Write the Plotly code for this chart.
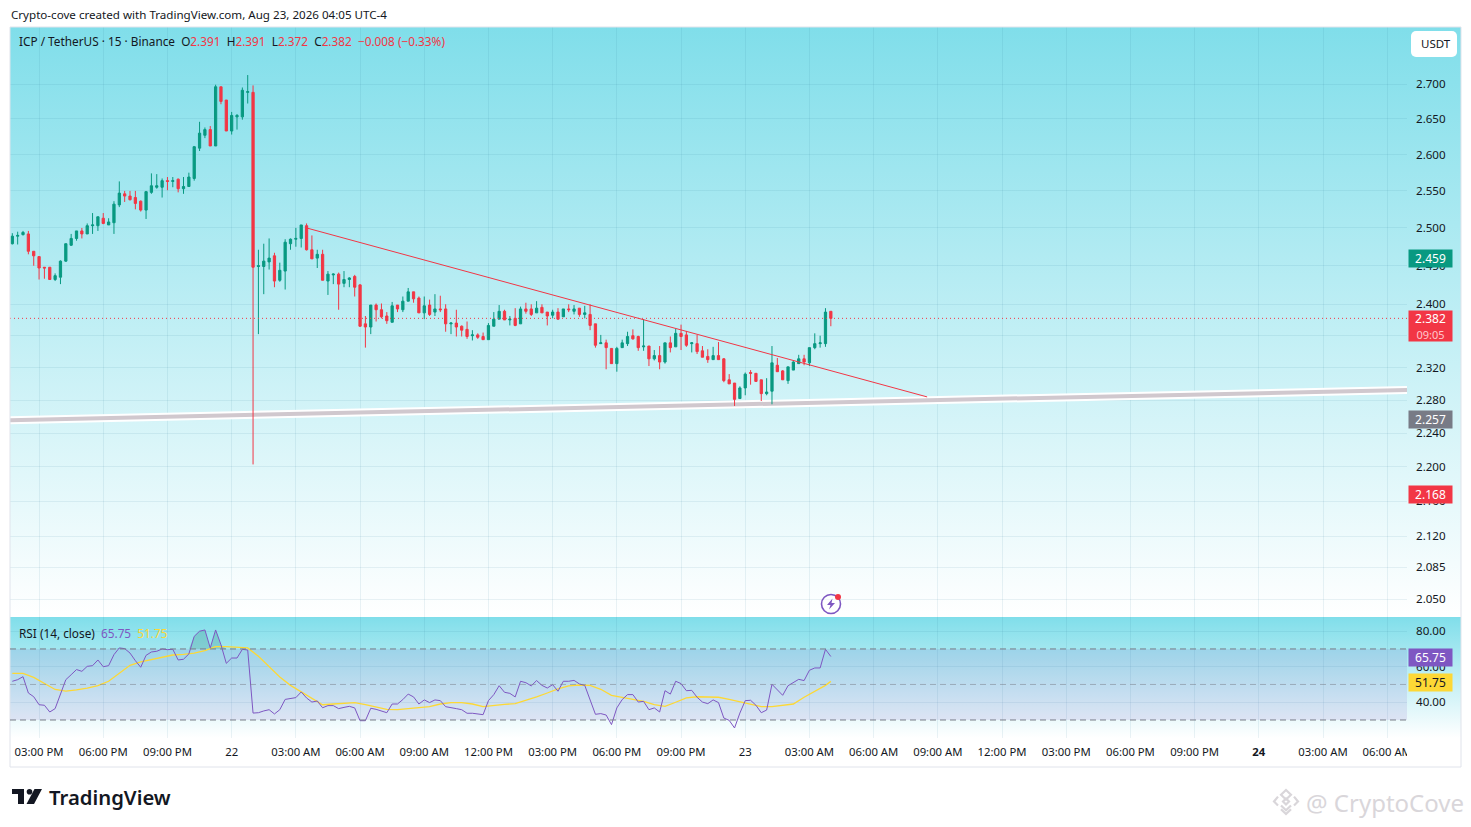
import math
from urllib.parse import quote

import numpy as np
import pandas as pd
import plotly.graph_objects as go

W, H = 1471, 827

# ---------------------------------------------------------
# Candles, 15 min bars
# ---------------------------------------------------------
opens = [
    2.479, 2.489, 2.491, 2.492, 2.469, 2.462, 2.448, 2.448, 2.432, 2.435, 2.456, 2.477, 2.486, 2.496,
    2.492, 2.503, 2.503, 2.513, 2.504, 2.507, 2.531, 2.546, 2.543, 2.541, 2.536, 2.524, 2.548, 2.555,
    2.555, 2.564, 2.563, 2.566, 2.553, 2.556, 2.567, 2.609, 2.627, 2.635, 2.612, 2.696, 2.677, 2.633,
    2.653, 2.653, 2.688, 2.688, 2.449, 2.449, 2.455, 2.463, 2.431, 2.443, 2.479, 2.485, 2.486, 2.503,
    2.471, 2.460, 2.465, 2.430, 2.438, 2.439, 2.427, 2.432, 2.436, 2.425, 2.375, 2.371, 2.399, 2.393,
    2.385, 2.377, 2.399, 2.393, 2.404, 2.416, 2.408, 2.389, 2.399, 2.390, 2.394, 2.394, 2.375, 2.376,
    2.372, 2.368, 2.360, 2.361, 2.359, 2.355, 2.372, 2.381, 2.391, 2.380, 2.382, 2.375, 2.394, 2.394,
    2.389, 2.396, 2.390, 2.386, 2.390, 2.384, 2.394, 2.391, 2.395, 2.387, 2.387, 2.375, 2.350, 2.351,
    2.344, 2.325, 2.345, 2.350, 2.360, 2.359, 2.346, 2.347, 2.331, 2.335, 2.327, 2.351, 2.346, 2.363,
    2.361, 2.350, 2.350, 2.341, 2.334, 2.330, 2.335, 2.331, 2.305, 2.301, 2.282, 2.295, 2.314, 2.313,
    2.305, 2.288, 2.291, 2.323, 2.316, 2.304, 2.317, 2.325, 2.331, 2.326, 2.345, 2.350, 2.350, 2.391,
]
highs = [
    2.493, 2.495, 2.496, 2.496, 2.469, 2.462, 2.448, 2.448, 2.440, 2.457, 2.479, 2.492, 2.496, 2.500,
    2.506, 2.520, 2.515, 2.520, 2.513, 2.536, 2.563, 2.550, 2.550, 2.550, 2.537, 2.550, 2.574, 2.573,
    2.567, 2.569, 2.569, 2.567, 2.569, 2.575, 2.612, 2.646, 2.638, 2.640, 2.699, 2.696, 2.677, 2.660,
    2.657, 2.695, 2.713, 2.698, 2.471, 2.479, 2.486, 2.467, 2.454, 2.485, 2.486, 2.500, 2.504, 2.506,
    2.490, 2.471, 2.471, 2.443, 2.440, 2.441, 2.443, 2.435, 2.438, 2.426, 2.385, 2.399, 2.401, 2.401,
    2.390, 2.403, 2.399, 2.410, 2.421, 2.416, 2.410, 2.410, 2.406, 2.413, 2.411, 2.400, 2.377, 2.393,
    2.373, 2.378, 2.367, 2.363, 2.364, 2.376, 2.390, 2.399, 2.393, 2.385, 2.395, 2.397, 2.402, 2.400,
    2.404, 2.400, 2.390, 2.393, 2.395, 2.394, 2.400, 2.399, 2.395, 2.398, 2.400, 2.375, 2.361, 2.355,
    2.344, 2.346, 2.355, 2.365, 2.368, 2.360, 2.381, 2.347, 2.342, 2.347, 2.351, 2.359, 2.369, 2.374,
    2.366, 2.352, 2.361, 2.347, 2.343, 2.346, 2.352, 2.332, 2.312, 2.301, 2.297, 2.314, 2.317, 2.313,
    2.305, 2.307, 2.347, 2.332, 2.317, 2.321, 2.328, 2.336, 2.336, 2.345, 2.363, 2.360, 2.395, 2.391,
]
lows = [
    2.478, 2.478, 2.490, 2.465, 2.450, 2.432, 2.433, 2.432, 2.430, 2.426, 2.455, 2.476, 2.483, 2.486,
    2.492, 2.492, 2.496, 2.505, 2.504, 2.492, 2.528, 2.535, 2.537, 2.525, 2.522, 2.512, 2.546, 2.553,
    2.541, 2.551, 2.555, 2.548, 2.546, 2.556, 2.564, 2.605, 2.623, 2.612, 2.612, 2.671, 2.633, 2.628,
    2.635, 2.649, 2.672, 2.203, 2.362, 2.413, 2.445, 2.422, 2.429, 2.419, 2.471, 2.475, 2.474, 2.470,
    2.459, 2.447, 2.431, 2.412, 2.426, 2.393, 2.422, 2.422, 2.410, 2.371, 2.345, 2.362, 2.378, 2.382,
    2.375, 2.377, 2.390, 2.390, 2.404, 2.402, 2.389, 2.381, 2.385, 2.385, 2.390, 2.365, 2.362, 2.359,
    2.359, 2.356, 2.354, 2.356, 2.355, 2.355, 2.372, 2.381, 2.380, 2.373, 2.372, 2.375, 2.388, 2.385,
    2.389, 2.389, 2.373, 2.382, 2.380, 2.384, 2.390, 2.387, 2.384, 2.382, 2.367, 2.345, 2.350, 2.318,
    2.325, 2.315, 2.345, 2.347, 2.355, 2.341, 2.341, 2.322, 2.329, 2.318, 2.325, 2.339, 2.346, 2.342,
    2.346, 2.339, 2.337, 2.333, 2.326, 2.330, 2.330, 2.302, 2.300, 2.273, 2.282, 2.286, 2.299, 2.303,
    2.279, 2.286, 2.275, 2.315, 2.305, 2.300, 2.317, 2.325, 2.323, 2.322, 2.343, 2.345, 2.346, 2.372,
]
closes = [
    2.489, 2.490, 2.494, 2.469, 2.463, 2.447, 2.447, 2.432, 2.437, 2.456, 2.479, 2.486, 2.496, 2.492,
    2.503, 2.504, 2.515, 2.506, 2.508, 2.532, 2.547, 2.543, 2.538, 2.533, 2.524, 2.549, 2.557, 2.557,
    2.564, 2.563, 2.564, 2.553, 2.556, 2.569, 2.611, 2.630, 2.635, 2.612, 2.696, 2.675, 2.633, 2.655,
    2.655, 2.691, 2.689, 2.448, 2.450, 2.456, 2.460, 2.430, 2.444, 2.481, 2.485, 2.486, 2.504, 2.471,
    2.459, 2.465, 2.431, 2.439, 2.439, 2.426, 2.432, 2.434, 2.422, 2.372, 2.371, 2.399, 2.393, 2.384,
    2.379, 2.398, 2.394, 2.404, 2.416, 2.407, 2.389, 2.398, 2.387, 2.394, 2.393, 2.375, 2.376, 2.371,
    2.367, 2.359, 2.361, 2.358, 2.355, 2.373, 2.381, 2.391, 2.380, 2.381, 2.373, 2.394, 2.391, 2.387,
    2.395, 2.389, 2.385, 2.390, 2.381, 2.394, 2.393, 2.394, 2.387, 2.389, 2.373, 2.348, 2.351, 2.345,
    2.325, 2.344, 2.351, 2.359, 2.356, 2.345, 2.347, 2.331, 2.335, 2.327, 2.351, 2.345, 2.363, 2.359,
    2.348, 2.351, 2.340, 2.333, 2.330, 2.335, 2.330, 2.304, 2.300, 2.281, 2.295, 2.312, 2.313, 2.303,
    2.288, 2.290, 2.326, 2.315, 2.305, 2.321, 2.327, 2.331, 2.327, 2.345, 2.350, 2.351, 2.390, 2.382,
]

# RSI line, one value per bar
rsi = [
    51.8, 52.7, 54.4, 45.2, 43.1, 38.6, 38.3, 34.5, 36.4, 45.2, 52.7, 55.5, 58.4, 57.4, 60.2, 60.6,
    63.8, 60.0, 60.6, 66.8, 70.6, 70.2, 67.7, 63.4, 59.7, 66.4, 68.3, 68.7, 70.0, 69.6, 69.8, 63.8,
    64.2, 67.2, 77.1, 80.0, 80.7, 70.6, 80.7, 72.4, 61.9, 64.9, 64.9, 69.8, 69.4, 33.9, 34.1, 35.1,
    35.8, 33.4, 35.8, 41.6, 42.2, 42.6, 45.8, 42.4, 40.1, 40.7, 36.9, 38.1, 38.1, 36.4, 37.1, 37.7,
    36.8, 29.6, 29.6, 36.6, 36.0, 35.1, 34.1, 39.0, 39.0, 41.5, 44.6, 43.0, 39.0, 41.3, 39.8, 41.3,
    40.9, 37.5, 37.1, 36.4, 35.8, 33.8, 33.8, 33.4, 33.0, 40.9, 44.3, 49.3, 45.6, 45.0, 43.0, 51.8,
    51.0, 49.2, 52.2, 49.5, 48.0, 49.9, 46.2, 51.8, 51.8, 52.3, 50.3, 49.5, 41.3, 33.2, 33.6, 32.8,
    27.4, 36.8, 41.5, 44.3, 44.3, 40.1, 40.5, 35.8, 36.8, 34.5, 46.5, 44.6, 51.8, 50.5, 46.5, 46.7,
    42.8, 40.1, 39.2, 41.3, 39.8, 31.1, 29.8, 25.5, 33.9, 40.9, 41.1, 38.3, 34.1, 35.6, 50.1, 47.1,
    43.9, 49.3, 51.0, 52.9, 52.2, 58.0, 59.3, 59.3, 69.8, 65.75,
]

# RSI moving average, read every second bar
ma_bars = [
    0, 2, 4, 6, 8, 10, 12, 14, 16, 18, 20, 22, 24, 26, 28, 30, 32, 34, 36, 38, 40, 42, 44, 46, 48, 50,
    52, 54, 56, 58, 60, 62, 64, 66, 68, 70, 72, 74, 76, 78, 80, 82, 84, 86, 88, 90, 92, 94, 96, 98, 100,
    102, 104, 106, 108, 110, 112, 114, 116, 118, 120, 122, 124, 126, 128, 130, 132, 134, 136, 138, 140,
    142, 144, 146, 148, 150, 152, 153,
]
rsi_ma = [
    56.3, 56.3, 54.0, 50.8, 47.2, 46.3, 46.9, 48.0, 49.3, 51.8, 56.5, 60.8, 62.7, 64.0, 65.5, 66.6, 67.0,
    67.6, 69.1, 71.3, 71.3, 70.8, 70.6, 65.9, 60.2, 54.2, 49.5, 45.8, 42.4, 38.6, 39.0, 39.4, 39.8, 38.6,
    37.3, 36.0, 35.8, 36.4, 37.1, 37.5, 39.0, 39.8, 39.8, 39.0, 37.5, 38.3, 38.8, 39.2, 40.9, 43.0, 45.2,
    47.5, 49.2, 49.7, 49.5, 47.3, 43.9, 42.8, 42.0, 40.5, 38.6, 37.7, 40.0, 42.4, 43.1, 42.8, 42.8, 41.6,
    40.1, 39.0, 37.5, 37.5, 38.1, 39.0, 42.8, 46.2, 49.5, 51.75,
]

# axis ticks
price_ticks = [2.7, 2.65, 2.6, 2.55, 2.5, 2.45, 2.4, 2.36, 2.32, 2.28, 2.24, 2.2, 2.16, 2.12, 2.085, 2.05]
rsi_ticks = [80, 60, 40]
rsi_levels = [70, 50, 30]
time_labels = [
    "03:00 PM", "06:00 PM", "09:00 PM", "22", "03:00 AM", "06:00 AM", "09:00 AM", "12:00 PM",
    "03:00 PM", "06:00 PM", "09:00 PM", "23", "03:00 AM", "06:00 AM", "09:00 AM", "12:00 PM",
    "03:00 PM", "06:00 PM", "09:00 PM", "<b>24</b>", "03:00 AM", "06:00 AM",
]

# drawn lines (time, price)
trend_x = ["2026-08-22 03:30", "2026-08-23 08:30"]
trend_y = [2.5, 2.284]
support_y = [2.2558, 2.2925]
x_range = ["2026-08-21 13:38:30", "2026-08-24 06:55:30"]
last_price = 2.382

# price scale labels on the right
price_tags = [(2.459, "#089981", "white"), (2.257, "#787b86", "white"), (2.168, "#f23645", "white")]
rsi_tags = [(65.0, "65.75", "#7e57c2", "white"), (51.0, "51.75", "#fdd835", "#131722")]

UP, DOWN = "#089981", "#f23645"
INK = "#131722"
GRID = "rgba(30,110,140,0.09)"
FONT = "Noto Sans"

times = pd.date_range("2026-08-21 13:45", periods=len(closes), freq="15min")
bar_x = list(times.strftime("%Y-%m-%d %H:%M"))
tick_x = list(pd.date_range("2026-08-21 15:00", periods=len(time_labels), freq="3h").strftime("%Y-%m-%d %H:%M"))
ma_x = [bar_x[i] for i in ma_bars]


def px(x):
    return x / W


def py(y):
    return 1 - y / H


def svg_image(body, x0, y0, x1, y1, vb=None, layer="above"):
    # small inline svg placed in page pixels
    vb = vb or f"0 0 {x1 - x0} {y1 - y0}"
    src = ("data:image/svg+xml," + quote(
        f"<svg xmlns='http://www.w3.org/2000/svg' viewBox='{vb}' preserveAspectRatio='none' "
        f"width='{x1 - x0}' height='{y1 - y0}'>{body}</svg>"))
    return dict(source=src, xref="paper", yref="paper", x=px(x0), y=py(y0), sizex=(x1 - x0) / W,
                sizey=(y1 - y0) / H, sizing="stretch", xanchor="left", yanchor="top", layer=layer)


gradient = ("<defs><linearGradient id='g' x1='0' y1='0' x2='0' y2='1'><stop offset='0' stop-color='#80deea'/>"
            "<stop offset='1' stop-color='#ffffff'/></linearGradient></defs>"
            "<rect width='100%' height='100%' fill='url(#g)'/>")
logo = ("<path d='M0 0H12V15H6V5H0Z' fill='#131722'/><circle cx='17.5' cy='2.8' r='2.8' fill='#131722'/>"
        "<path d='M22.5 0H30L22 15H14.5Z' fill='#131722'/><rect x='0' y='0' width='6' height='5' fill='#131722'/>")
diamond = ("<g fill='none' stroke='#d9d6da' stroke-width='2.2'>"
           "<path d='M14 2L19 7L14 12L9 7Z'/><path d='M6 9L2 14L6 18M22 9L26 14L22 18'/>"
           "<path d='M9 18L14 23L19 18M14 11L17 14L14 17L11 14Z'/><path d='M9 22L14 27L19 22'/></g>")
bolt = ("<circle cx='11' cy='11' r='9.5' fill='white' fill-opacity='0.5' stroke='#7e57c2' stroke-width='1.6'/>"
        "<path d='M12.5 5.5L7 12H10.5L9 16.5L15 10H11.5Z' fill='#7e57c2'/>"
        "<circle cx='18' cy='4' r='3' fill='#f23645'/>")
usdt_box = "<rect x='0' y='0' width='46' height='26' rx='5' fill='white'/>"

# ---------------------------------------------------------
# Traces
# ---------------------------------------------------------
fig = go.Figure()
fig.add_trace(go.Candlestick(
    x=bar_x, open=opens, high=highs, low=lows, close=closes,
    increasing=dict(line=dict(color=UP, width=1), fillcolor=UP),
    decreasing=dict(line=dict(color=DOWN, width=1), fillcolor=DOWN),
    whiskerwidth=0, hoverinfo="skip",
))
fig.add_trace(go.Scatter(x=trend_x, y=trend_y, mode="lines", line=dict(color=DOWN, width=1), hoverinfo="skip"))

# overbought shading, then RSI and its average
fig.add_trace(go.Scatter(x=bar_x, y=[70] * len(bar_x), xaxis="x2", yaxis="y2", mode="lines",
                         line=dict(width=0), hoverinfo="skip"))
fig.add_trace(go.Scatter(x=bar_x, y=np.maximum(rsi, 70).tolist(), xaxis="x2", yaxis="y2", mode="lines",
                         line=dict(width=0), fill="tonexty", fillcolor="rgba(40,130,120,0.25)", hoverinfo="skip"))
fig.add_trace(go.Scatter(x=ma_x, y=rsi_ma, xaxis="x2", yaxis="y2", mode="lines",
                         line=dict(color="#fdd835", width=1.3), hoverinfo="skip"))
fig.add_trace(go.Scatter(x=bar_x, y=rsi, xaxis="x2", yaxis="y2", mode="lines",
                         line=dict(color="#7e57c2", width=1), hoverinfo="skip"))

# ---------------------------------------------------------
# Shapes
# ---------------------------------------------------------
shapes = [
    dict(type="line", xref="x", yref="y", x0=x_range[0], x1=x_range[1], y0=support_y[0], y1=support_y[1],
         line=dict(color="white", width=8), layer="between"),
    dict(type="line", xref="x", yref="y", x0=x_range[0], x1=x_range[1], y0=support_y[0], y1=support_y[1],
         line=dict(color="#d0c8ce", width=4), layer="between"),
    dict(type="line", xref="x", yref="y", x0=x_range[0], x1=x_range[1], y0=last_price, y1=last_price,
         line=dict(color=DOWN, width=1, dash="1px,3px"), layer="above"),
    dict(type="rect", xref="x2", yref="y2", x0=x_range[0], x1=x_range[1], y0=rsi_levels[2], y1=rsi_levels[0],
         fillcolor="rgba(126,87,194,0.13)", line=dict(width=0), layer="between"),
    # clips the last time label at the edge of the pane
    dict(type="rect", xref="paper", yref="paper", x0=px(1407), x1=px(1460), y0=py(766), y1=py(739),
         fillcolor="white", line=dict(width=0), layer="above"),
    # frame around the chart
    dict(type="rect", xref="paper", yref="paper", x0=px(10), x1=px(1461), y0=py(767), y1=py(27),
         line=dict(color="#e0e3eb", width=1), layer="above"),
]
for level in rsi_levels:
    shapes.append(dict(type="line", xref="x2", yref="y2", x0=x_range[0], x1=x_range[1], y0=level, y1=level,
                       line=dict(color="#787b86" if level != 50 else "rgba(120,123,134,0.5)", width=1,
                                 dash="6px,4px"), layer="above"))

# ---------------------------------------------------------
# Text
# ---------------------------------------------------------
def note(text, x, y, size=11, color=INK, **kw):
    return dict(text=text, xref="paper", yref="paper", x=px(x), y=py(y), xanchor="left", yanchor="middle",
                showarrow=False, font=dict(family=FONT, size=size, color=color), borderpad=0, **kw)


def red(v):
    return f"<span style='color:{DOWN}'>{v}</span>"


annotations = [
    note("Crypto-cove created with TradingView.com, Aug 23, 2026 04:05 UTC-4", 10, 14.5, size=11.6),
    note(f"ICP / TetherUS · 15 · Binance\u00a0\u00a0O{red('2.391')}\u00a0\u00a0H{red('2.391')}\u00a0\u00a0"
         f"L{red('2.372')}\u00a0\u00a0C{red('2.382')}\u00a0\u00a0{red('−0.008 (−0.33%)')}", 18, 41.5, size=11.8),
    note("RSI (14, close)\u00a0\u00a0<span style='color:#7e57c2'>65.75</span>\u00a0\u00a0"
         "<span style='color:#fdd835'>51.75</span>", 18, 632.5, size=11.8),
    note("USDT", 1420, 44, size=11.5),
    note("TradingView", 48, 796.5, size=20.3),
    note("@ CryptoCove", 1305, 802, size=24, color="#d9d6da"),
]
annotations[4]["font"]["weight"] = 600

for value, bg, fg in price_tags:
    annotations.append(dict(text=f"{value:.3f}", xref="paper", yref="y", x=px(1407.5), y=math.log10(value),
                            xanchor="left", yanchor="middle", showarrow=False, width=41, height=15, bgcolor=bg,
                            font=dict(family=FONT, size=12, color=fg)))
annotations.append(dict(text="2.382<br><span style='font-size:11px;color:#ffc7cc'>09:05</span>", xref="paper", yref="y",
                        x=px(1407.5), y=math.log10(last_price), yshift=8, xanchor="left", yanchor="top",
                        showarrow=False, width=41, height=28, bgcolor=DOWN,
                        font=dict(family=FONT, size=12, color="white")))
for value, text, bg, fg in rsi_tags:
    annotations.append(dict(text=text, xref="paper", yref="y2", x=px(1407.5), y=value, xanchor="left",
                            yanchor="middle", showarrow=False, width=41, height=15, bgcolor=bg,
                            font=dict(family=FONT, size=12, color=fg)))

# ---------------------------------------------------------
# Layout
# ---------------------------------------------------------
fig.update_layout(
    width=W, height=H, autosize=False, margin=dict(l=0, r=0, t=0, b=0, autoexpand=False),
    paper_bgcolor="white", plot_bgcolor="rgba(0,0,0,0)", showlegend=False, hovermode=False,
    font=dict(family=FONT, size=12, color=INK), boxgap=0.4,
    xaxis=dict(domain=[px(10), px(1407)], range=x_range, type="date", anchor="y", showticklabels=False,
               tickmode="array", tickvals=tick_x, ticks="", showgrid=True, gridcolor=GRID, gridwidth=1,
               rangeslider=dict(visible=False), zeroline=False, showline=False),
    yaxis=dict(domain=[py(617), py(27)], type="log", side="right", anchor="x",
               range=[math.log10(2.0304), math.log10(2.7836)],
               tickmode="array", tickvals=price_ticks, ticktext=[f"{v:.3f}" for v in price_ticks],
               ticks="", ticklabelstandoff=8, showgrid=True, gridcolor=GRID, gridwidth=1,
               zeroline=False, showline=False, tickfont=dict(size=11.6, color=INK)),
    xaxis2=dict(domain=[px(10), px(1407)], range=x_range, type="date", anchor="y2", matches="x",
                tickmode="array", tickvals=tick_x, ticktext=time_labels, ticks="", ticklabelstandoff=6,
                showgrid=True, gridcolor=GRID, gridwidth=1, zeroline=False, showline=False,
                rangeslider=dict(visible=False), tickangle=0, tickfont=dict(size=11.3, color=INK)),
    yaxis2=dict(domain=[py(738), py(617)], side="right", anchor="x2", range=[19.86, 88.0],
                tickmode="array", tickvals=rsi_ticks, ticktext=[f"{v:.2f}" for v in rsi_ticks],
                ticks="", ticklabelstandoff=8, showgrid=True, gridcolor=GRID, gridwidth=1,
                zeroline=False, showline=False, tickfont=dict(size=11.6, color=INK)),
    shapes=shapes,
    annotations=annotations,
    images=[
        svg_image(gradient, 10, 27, 1461, 617, layer="below"),
        svg_image(gradient, 10, 617, 1461, 738, layer="below"),
        svg_image(usdt_box, 1411, 31, 1457, 57),
        svg_image(logo, 12, 789, 42, 804),
        svg_image(diamond, 1272, 788, 1300, 816, vb="0 0 28 29"),
        svg_image(bolt, 820, 593, 842, 615),
    ],
)

fig.write_html("out.html", config=dict(displayModeBar=False, staticPlot=True),
               post_script="document.body.style.margin='0';document.body.style.overflow='hidden';")
